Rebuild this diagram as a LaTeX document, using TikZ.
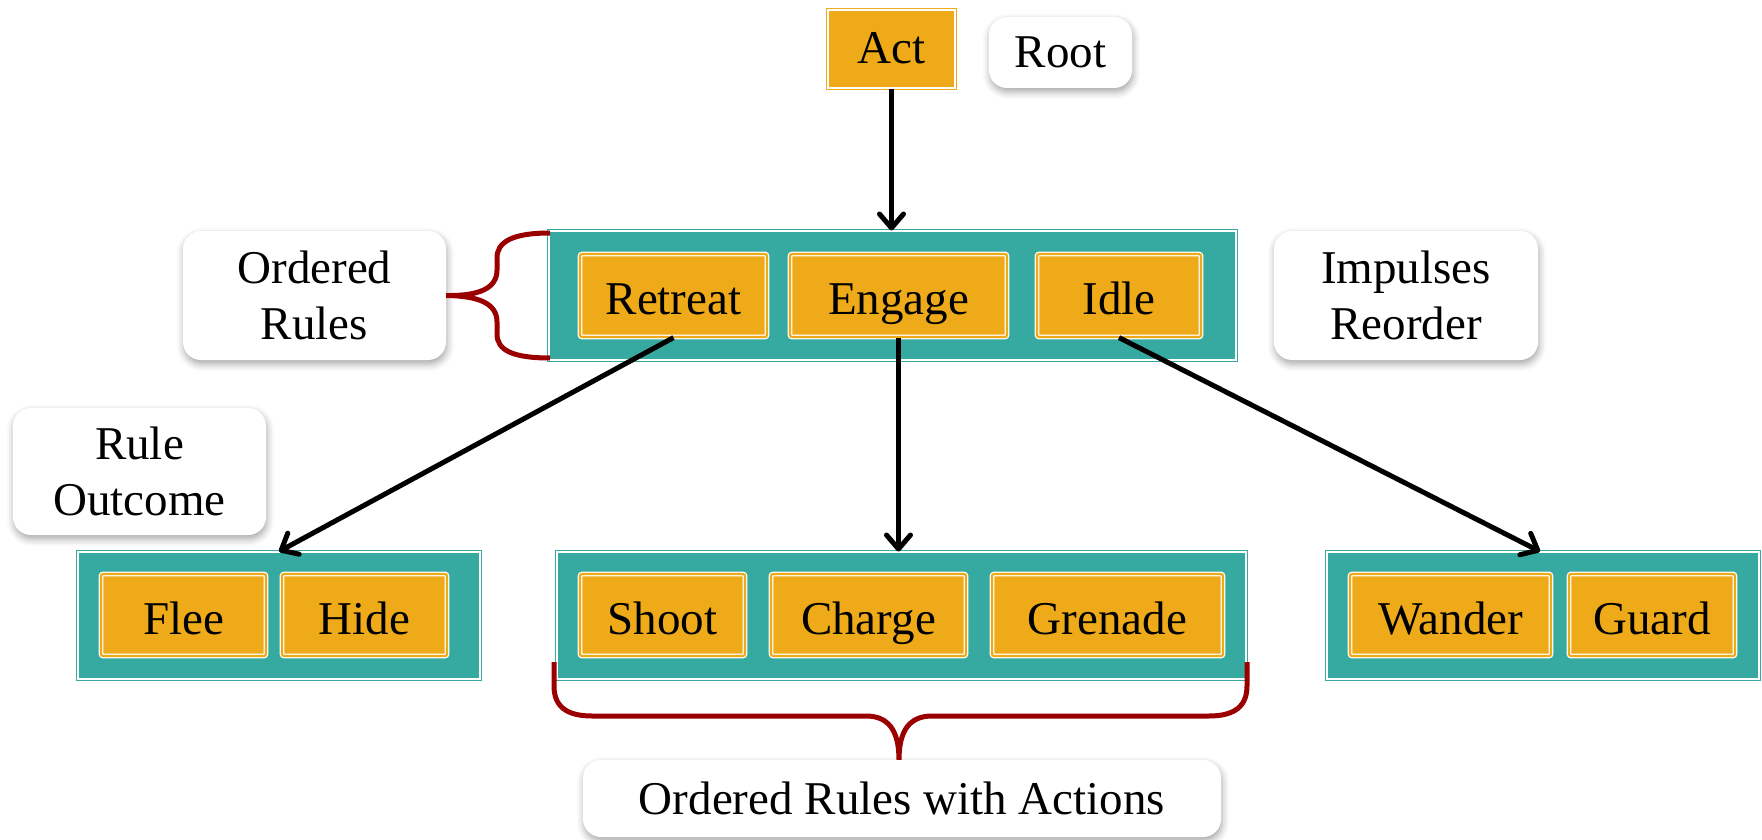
\documentclass[tikz,border=0pt]{standalone}
\usepackage{fontspec}
\setmainfont{Liberation Serif}
\usetikzlibrary{arrows.meta,shadows.blur}
\definecolor{tealc}{RGB}{54,170,160}
\definecolor{orangec}{RGB}{238,170,24}
\definecolor{bracec}{RGB}{155,0,0}
\tikzset{
  txt/.style={font=\fontsize{47}{56}\selectfont, text=black, align=center, inner sep=0pt},
  tealbox/.style={draw=tealc, double=white, line width=1pt, double distance=1.6pt, fill=tealc, minimum height=127pt, inner sep=0pt},
  itembox/.style={txt, draw=white, double=orangec, line width=1.2pt, double distance=2.2pt, fill=orangec, rounded corners=2pt, minimum height=82pt, text height=42pt, text depth=4pt},
  rootbox/.style={txt, draw=orangec, double=white, line width=1.5pt, double distance=1.4pt, fill=orangec, text height=40pt, text depth=10pt},
  callout/.style={txt, fill=white, rounded corners=18pt, blur shadow={shadow xshift=1pt, shadow yshift=-4pt, shadow blur radius=7pt, shadow opacity=35}},
  arr/.style={line width=5pt, -{Straight Barb[length=14pt,width=24pt,round]}},
  brace/.style={draw=bracec, line width=5pt}
}
\begin{document}
\begin{tikzpicture}[x=1pt,y=-1pt]
\useasboundingbox (0,0) rectangle (1762,840);
% root
\node[rootbox, minimum width=127pt, minimum height=78pt] (act) at (891.5,49) {Act};
\node[callout, minimum width=143pt, minimum height=71pt] (root) at (1060.5,52.5) {Root};
% top level
\node[tealbox, minimum width=687pt, minimum height=129pt] (top) at (892.5,295.5) {};
\node[itembox, minimum width=187pt, minimum height=83pt] (retreat) at (673.5,295.5) {Retreat};
\node[itembox, minimum width=217pt, minimum height=83pt] (engage) at (898.5,295.5) {Engage};
\node[itembox, minimum width=164pt, minimum height=83pt] (idle) at (1119,295.5) {Idle};
\node[callout, minimum width=263pt, minimum height=129pt] (ordered) at (314.5,295.5) {Ordered\\Rules};
\node[callout, minimum width=264pt, minimum height=129pt] (impulses) at (1406,295.5) {Impulses\\Reorder};
\node[callout, minimum width=253pt, minimum height=127pt] (outcome) at (139.5,471.5) {Rule\\Outcome};
% bottom left
\node[tealbox, minimum width=402pt] (bl) at (279,615.5) {};
\node[itembox, minimum width=165pt] (flee) at (183.5,615) {Flee};
\node[itembox, minimum width=165pt] (hide) at (364.5,615) {Hide};
% bottom middle
\node[tealbox, minimum width=689pt] (bm) at (901.5,615.5) {};
\node[itembox, minimum width=165pt] (shoot) at (662.5,615) {Shoot};
\node[itembox, minimum width=195pt] (charge) at (868.5,615) {Charge};
\node[itembox, minimum width=231pt] (grenade) at (1107.5,615) {Grenade};
% bottom right
\node[tealbox, minimum width=432pt] (br) at (1543,615.5) {};
\node[itembox, minimum width=201pt] (wander) at (1450.5,615) {Wander};
\node[itembox, minimum width=166pt] (guard) at (1652,615) {Guard};
% bottom callout
\node[callout, minimum width=638pt, minimum height=77pt] (actions) at (902,798.5) {Ordered Rules with Actions};
% arrows
\draw[arr] (act.south) -- (act.south |- top.north);
\draw[arr] (retreat.south) -- (bl.north);
\draw[arr] (engage.south) -- (engage.south |- bm.north);
\draw[arr] (idle.south) -- (br.north -| 1540,0);
% left brace
\draw[brace, line cap=butt] (550,233) .. controls (512,233) and (497,242) .. (497,258)
  -- (497,270) .. controls (497,288) and (480,296) .. (ordered.east)
  (ordered.east) .. controls (480,296) and (497,304) .. (497,322)
  -- (497,334) .. controls (497,350) and (512,358) .. (550,358);
% bottom brace
\draw[brace] (554,662) -- (554,686) .. controls (554,706) and (566,716) .. (592,716)
  -- (866,716) .. controls (888,716) and (899,730) .. (actions.north -| 899,0)
  (actions.north -| 899,0) .. controls (899,730) and (910,716) .. (932,716)
  -- (1209,716) .. controls (1235,716) and (1247,706) .. (1247,686) -- (1247,662);
\end{tikzpicture}
\end{document}
